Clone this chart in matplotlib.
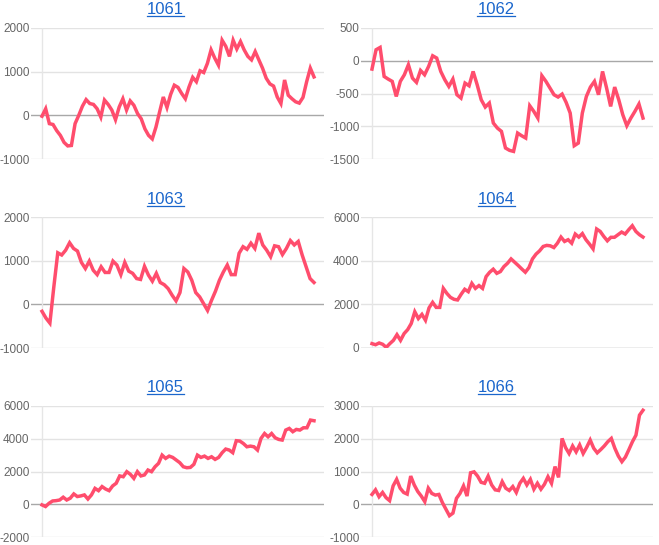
import matplotlib
matplotlib.use("Agg")
import matplotlib.pyplot as plt
from matplotlib.lines import Line2D

plt.rcParams['font.family'] = ['Liberation Sans', 'DejaVu Sans']
plt.rcParams['axes.unicode_minus'] = False

titles = ["1061", "1062", "1063", "1064", "1065", "1066"]

s1061 = [-20, 150, -190, -210, -350, -460, -620, -700, -690, -190, 0, 210, 360, 270, 250, 150,
         -40, 350, 250, 120, -100, 190, 380, 120, 330, 230, 40, -80, -310, -460, -540, -270,
         80, 420, 180, 480, 690, 640, 500, 380, 650, 870, 770, 1020, 980, 1190, 1500, 1310,
         1150, 1720, 1580, 1350, 1720, 1520, 1690, 1500, 1350, 1270, 1460, 1270, 1080, 850,
         720, 670, 420, 270, 810, 460, 380, 310, 280, 410, 770, 1080, 880]
s1062 = [-127, 168, 203, -240, -280, -315, -545, -315, -214, -61, -265, -330, -148, -214, -86,
         76, 41, -163, -290, -392, -280, -519, -570, -341, -382, -163, -366, -595, -707, -646,
         -951, -1028, -1078, -1332, -1368, -1384, -1104, -1145, -1180, -687, -773, -875, -229,
         -315, -417, -519, -554, -509, -636, -799, -1297, -1257, -799, -545, -402, -315, -519,
         -163, -417, -697, -402, -595, -824, -992, -875, -773, -661, -875]
s1063 = [-160, -315, -430, 400, 1180, 1130, 1240, 1410, 1280, 1220, 960, 820, 990, 780, 680,
         860, 730, 730, 990, 900, 680, 960, 760, 710, 590, 570, 870, 670, 530, 710, 500, 450,
         360, 210, 80, 270, 820, 740, 550, 270, 170, 15, -140, 90, 300, 550, 740, 900, 680,
         680, 1170, 1320, 1260, 1400, 1280, 1630, 1360, 1240, 1090, 1340, 1320, 1140, 1280,
         1460, 1360, 1440, 1130, 860, 590, 500]
s1064 = [200, 150, 230, 170, 30, 200, 350, 610, 350, 660, 840, 1120, 1660, 1350, 1540, 1270,
         1840, 2090, 1860, 1860, 2730, 2500, 2320, 2230, 2200, 2460, 2690, 2580, 2960, 2730,
         2860, 2730, 3270, 3470, 3610, 3420, 3500, 3730, 3880, 4080, 3930, 3780, 3620, 3470,
         3680, 4080, 4300, 4450, 4650, 4700, 4680, 4600, 4800, 5080, 4880, 4960, 4800, 5220,
         5080, 5240, 4960, 4760, 4540, 5450, 5340, 5110, 4910, 5070, 5070, 5190, 5310, 5220,
         5420, 5600, 5340, 5190, 5080]
s1065 = [-40, -140, 60, 200, 220, 260, 430, 260, 370, 630, 470, 510, 570, 320, 570, 970, 830,
         1080, 930, 830, 1120, 1280, 1730, 1680, 1990, 1830, 1580, 1990, 1730, 1790, 2090,
         1990, 2290, 2500, 3000, 2800, 2940, 2860, 2700, 2540, 2290, 2230, 2250, 2440, 3000,
         2860, 2940, 2800, 2900, 2740, 2860, 3150, 3370, 3310, 3150, 3880, 3860, 3710, 3510,
         3550, 3510, 3310, 4020, 4320, 4120, 4320, 4060, 3960, 3920, 4530, 4630, 4430, 4570,
         4530, 4670, 4670, 5140, 5100]
s1066 = [300, 440, 230, 360, 200, 110, 560, 760, 490, 360, 310, 860, 590, 390, 250, 80, 490,
         330, 280, 300, 50, -150, -350, -270, 180, 330, 560, 250, 960, 990, 860, 670, 640, 860,
         590, 440, 420, 690, 490, 420, 540, 360, 640, 790, 590, 760, 460, 640, 460, 610, 840,
         640, 1150, 820, 2010, 1730, 1550, 1780, 1600, 1810, 1550, 1740, 1960, 1710, 1570,
         1670, 1780, 1910, 2010, 1710, 1470, 1300, 1440, 1670, 1910, 2110, 2720, 2870]
series = [s1061, s1062, s1063, s1064, s1065, s1066]

yticks = [
    [-1000, 0, 1000, 2000],
    [-1500, -1000, -500, 0, 500],
    [-1000, 0, 1000, 2000],
    [0, 2000, 4000, 6000],
    [-2000, 0, 2000, 4000, 6000],
    [-1000, 0, 1000, 2000, 3000],
]

W, H = 659, 545
fig = plt.figure(figsize=(W / 100, H / 100), dpi=100)

LINE = '#ff4d6d'
TITLE = '#1a66cc'
GRID = '#e3e3e3'
BASE = '#a8a8a8'
VLINE = '#e6e6e6'
LABEL = '#666666'

rows = [(28, 159), (217, 348), (406, 537)]
title_y = [9.5, 199, 387.5]
cols = [dict(L=31, x0=42, x1=314, R=324, tc=165),
        dict(L=361, x0=372, x1=643, R=653, tc=496)]

title_texts = []
for i, (name, vals, ticks) in enumerate(zip(titles, series, yticks)):
    r, c = divmod(i, 2)
    top, bot = rows[r]
    g = cols[c]
    ax = fig.add_axes([g['L'] / W, 1 - bot / H, (g['R'] - g['L']) / W, (bot - top) / H])
    n = len(vals)
    xs = list(range(n))
    s = (n - 1) / (g['x1'] - g['x0'])
    ax.set_xlim(-(g['x0'] - g['L']) * s, (n - 1) + (g['R'] - g['x1']) * s)
    ax.set_ylim(ticks[0], ticks[-1])
    for t in ticks:
        ax.axhline(t, color=BASE if t == 0 else GRID, lw=1.0, zorder=1)
    ax.axvline(0, color=VLINE, lw=1.0, zorder=1)
    ax.plot(xs, vals, color=LINE, lw=2.5, zorder=3, solid_joinstyle='miter')
    ax.set_yticks(ticks)
    ax.set_yticklabels([str(t) for t in ticks])
    ax.tick_params(axis='y', length=0, pad=1.0, labelsize=8.5, labelcolor=LABEL)
    ax.set_xticks([])
    for sp in ax.spines.values():
        sp.set_visible(False)
    ax.patch.set_alpha(0)
    tt = fig.text(g['tc'] / W, 1 - title_y[r] / H, name, ha='center', va='center',
                  fontsize=12, color=TITLE)
    title_texts.append(tt)

fig.canvas.draw()
renderer = fig.canvas.get_renderer()
for tt in title_texts:
    bb = tt.get_window_extent(renderer)
    yb = bb.y0 + 1.0
    fig.add_artist(Line2D([bb.x0 / W, bb.x1 / W], [yb / H, yb / H],
                          transform=fig.transFigure, color=TITLE, lw=0.9))

fig.savefig('out.png', dpi=100)
